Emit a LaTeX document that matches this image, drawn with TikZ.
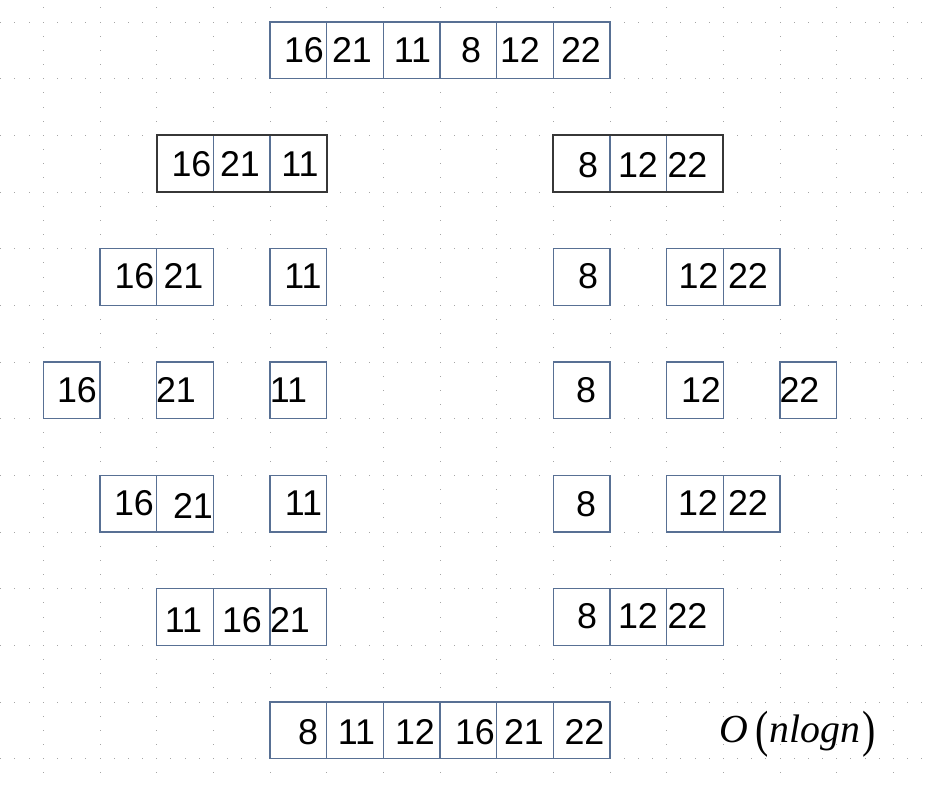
\documentclass[tikz,border=0pt]{standalone}
\usepackage{fontspec}
\setmainfont{Liberation Sans}
\newfontfamily\mathserif{Liberation Serif}
\definecolor{cellblue}{RGB}{88,112,148}
\definecolor{outerdark}{RGB}{55,55,55}
\definecolor{dotc}{RGB}{165,165,165}
\begin{document}
\begin{tikzpicture}[x=0.0176471cm,y=-0.0176471cm,
  cell/.style={draw=cellblue,line width=0.6pt,minimum size=1cm,inner sep=0pt,outer sep=0pt},
  num/.style={anchor=base,inner sep=0pt,font=\fontsize{18}{20}\selectfont},
  outerbox/.style={draw=outerdark,line width=0.9pt},
  gdot/.style={fill=dotc}]
\useasboundingbox (0,0) rectangle (925,787);
% dotted grid
\foreach \i in {0,...,15}{
  \foreach \j in {-1,...,54}{
    \fill[gdot] ({43.333+56.667*\i-0.5},{22+14.1667*\j-0.5}) rectangle ++(1,1);
  }
}
\foreach \i in {0,...,13}{
  \foreach \j in {-3,...,62}{
    \fill[gdot] ({43.333+14.1667*\j-0.5},{22+56.667*\i-0.5}) rectangle ++(1,1);
  }
}
% cells
\foreach \n/\c/\r in {a1/4/0,a2/5/0,a3/6/0,a4/7/0,a5/8/0,a6/9/0,
  b1/2/2,b2/3/2,b3/4/2,c1/9/2,c2/10/2,c3/11/2,
  d1/1/4,d2/2/4,d3/4/4,d4/9/4,d5/11/4,d6/12/4,
  e1/0/6,e2/2/6,e3/4/6,e4/9/6,e5/11/6,e6/13/6,
  f1/1/8,f2/2/8,f3/4/8,f4/9/8,f5/11/8,f6/12/8,
  g1/2/10,g2/3/10,g3/4/10,g4/9/10,g5/10/10,g6/11/10,
  h1/4/12,h2/5/12,h3/6/12,h4/7/12,h5/8/12,h6/9/12}{
  \node[cell] (\n) at ({71.667+56.667*\c},{50.333+56.667*\r}) {};
}
\draw[outerbox] (b1.north west) rectangle (b3.south east);
\draw[outerbox] (c1.north west) rectangle (c3.south east);
% numbers
\foreach \n/\x/\y/\t in {
  ta1/304/62/16,ta2/352/62/21,ta3/412.5/62/11,ta4/471/62/8,ta5/520/62/12,ta6/581/62/22,
  tb1/191.5/176/16,tb2/240/176/21,tb3/300/176/11,tc1/588/177/8,tc2/638/177/12,tc3/687.5/177/22,
  td1/134.5/288/16,td2/183.5/288/21,td3/303/288/11,td4/588/288/8,td5/698.5/288/12,td6/748/288/22,
  te1/77/402/16,te2/176/402/21,te3/288.5/402/11,te4/586/402/8,te5/701/402/12,te6/799.5/402/22,
  tf1/134/515/16,tf2/193/518/21,tf3/303.5/515/11,tf4/586/516/8,tf5/698/515/12,tf6/748/515/22,
  tg1/183.5/632/11,tg2/242/632/16,tg3/290/632/21,tg4/587/628/8,tg5/638/628/12,tg6/687.5/628/22,
  th1/308/744/8,th2/356.5/744/11,th3/415/744/12,th4/475/744/16,th5/524/744/21,th6/584.5/744/22}{
  \node[num] (\n) at (\x,\y) {\t};
}
% complexity
\node[anchor=base west,inner sep=0pt,font=\fontsize{20}{22}\selectfont\mathserif] (cx) at (719,742)
  {\textit{O}\hspace{3.5pt}\raisebox{-2.2pt}{\scalebox{1}[1.28]{(}}\hspace{0.5pt}\textit{nlogn}\hspace{1pt}\raisebox{-2.2pt}{\scalebox{1}[1.28]{)}}};
\end{tikzpicture}
\end{document}
